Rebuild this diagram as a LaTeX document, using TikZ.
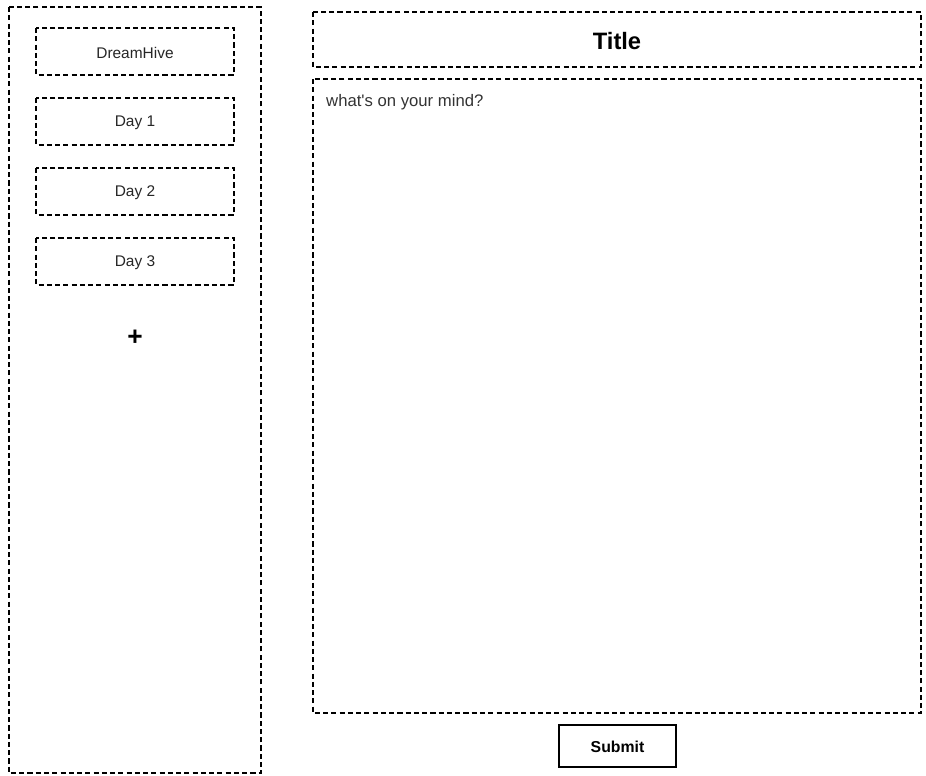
\documentclass[tikz,border=0pt]{standalone}
\usepackage{fontspec}
\setmainfont{Liberation Sans}
\begin{document}
\begin{tikzpicture}[x=0.02cm,y=-0.02cm,
  dbox/.style={draw,line width=1.1pt,dash pattern=on 2.9pt off 1.8pt},
  lbl/.style={font=\fontsize{8.8}{10}\selectfont,text=black!85}]
\useasboundingbox (0,0) rectangle (926,775);
%sidebar
\draw [dbox] (9,7) rectangle (261,773);
\draw [dbox] (36,28) rectangle (234,75); %logo
\draw [dbox] (36,98) rectangle (234,145); %day 1
\draw [dbox] (36,168) rectangle (234,215); %day 2
\draw [dbox] (36,238) rectangle (234,285); %day 3
\node[lbl] (logo) at (135,53) {DreamHive};
\node[lbl] (day1) at (135,123) {Day 1};
\node[lbl] (day2) at (135,193) {Day 2};
\node[lbl] (day3) at (135,263) {Day 3};
\node[font=\fontsize{15}{16}\selectfont\bfseries] (plus) at (135,338) {+};
%main area
\draw [dbox] (313,12) rectangle (921,67); %title
\draw [dbox] (313,79) rectangle (921,713); %text area
\node[font=\fontsize{13.5}{15}\selectfont\bfseries] (title) at (617,41) {Title};
\node[anchor=west,font=\fontsize{9.5}{11}\selectfont,text=black!80] (hint) at (320,102) {what\textquotesingle s on your mind?};
%button
\draw [line width=1.1pt] (559,725) rectangle (676,767);
\node[font=\fontsize{9}{10}\selectfont\bfseries] (submit) at (617.5,747) {Submit};
\end{tikzpicture}
\end{document}
